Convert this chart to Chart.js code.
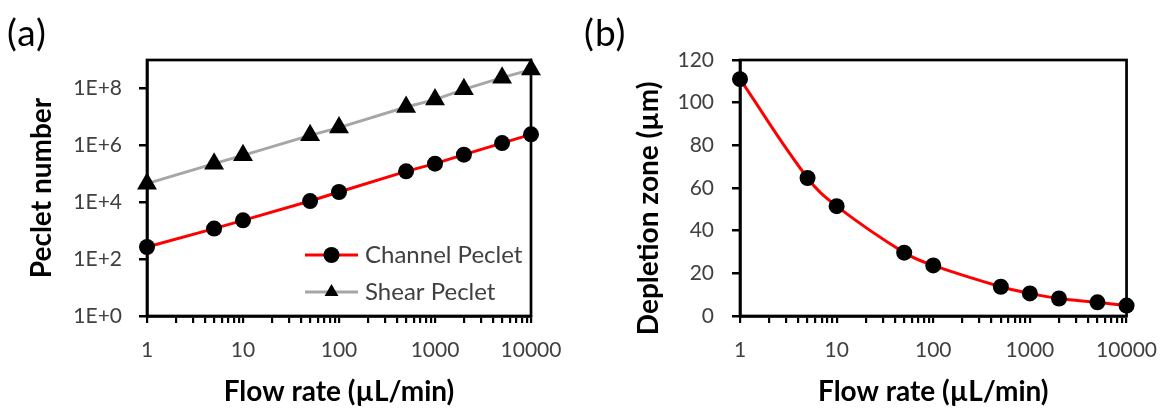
<!DOCTYPE html>
<html lang="en">
<head>
    <meta charset="utf-8">
    <title>Peclet number and depletion zone vs flow rate</title>
    <style>
        body { margin: 0; background: #fff; width: 1172px; height: 408px; position: relative; overflow: hidden; font-family: Lato, sans-serif; }
        .panel { position: absolute; top: 0; width: 586px; height: 408px; }
        .tag { position: absolute; top: 13px; font-size: 37px; line-height: 1; color: #000; letter-spacing: 1px; }
    </style>
</head>
<body>
    <!-- two panels side by side -->
    <div class="panel" style="left:0"><canvas id="chartA" width="586" height="408"></canvas></div>
    <div class="panel" style="left:586px"><canvas id="chartB" width="586" height="408"></canvas></div>
    <div class="tag" style="left:7px">(a)</div>
    <div class="tag" style="left:584px">(b)</div>

    <script src="https://cdn.jsdelivr.net/npm/chart.js"></script>
    <script>
        // data
        const flowRates = [1, 5, 10, 50, 100, 500, 1000, 2000, 5000, 10000]
        const channelPeclet = [266, 1180, 2310, 11000, 22900, 122000, 227000, 470000, 1200000, 2430000]
        const shearPeclet = [45000, 227000, 445000, 2240000, 4200000, 22200000, 40500000, 93000000, 240000000, 460000000]
        const depletionZone = [111, 64.7, 51.5, 29.7, 23.7, 13.7, 10.6, 8.2, 6.4, 4.9]

        // axis ticks
        const xMajorTicks = [1, 10, 100, 1000, 10000]
        const xTickLabels = ['1', '10', '100', '1000', '10000']
        const peTicks = [1, 1e2, 1e4, 1e6, 1e8]
        const peTickLabels = ['1E+0', '1E+2', '1E+4', '1E+6', '1E+8']
        const depTicks = [0, 20, 40, 60, 80, 100, 120]

        // minor ticks 2..9 in every decade
        const xTickValues = []
        xMajorTicks.forEach(m => {
            xTickValues.push(m)
            if (m < 10000) {
                for (let k = 2; k <= 9; k++) xTickValues.push(m * k)
            }
        })

        const tickFont = { family: 'Lato', size: 21 }
        const tickColor = '#404040'
        const titleFont = { family: 'Lato', size: 28, weight: 'bold', lineHeight: 1 }

        const framePlugin = {
            id: 'frame',
            beforeDatasetsDraw(chart) {
                const { ctx, chartArea: a } = chart
                ctx.save()
                ctx.strokeStyle = '#000'
                ctx.lineWidth = 2.7
                ctx.strokeRect(a.left, a.top, a.right - a.left, a.bottom - a.top)
                ctx.restore()
            }
        }

        // legend drawn inside the plot area, bottom right
        const insideLegend = {
            id: 'insideLegend',
            afterDraw(chart) {
                const { ctx, chartArea: a } = chart
                ctx.save()
                chart.data.datasets.forEach((ds, i) => {
                    const y = a.bottom - 61 + i * 37
                    const x0 = a.right - 226
                    const x1 = a.right - 173
                    const xm = (x0 + x1) / 2
                    ctx.strokeStyle = ds.borderColor
                    ctx.lineWidth = ds.borderWidth
                    ctx.beginPath()
                    ctx.moveTo(x0, y)
                    ctx.lineTo(x1, y)
                    ctx.stroke()
                    ctx.fillStyle = '#000'
                    ctx.beginPath()
                    if (ds.pointStyle === 'triangle') {
                        const r = 8
                        ctx.moveTo(xm, y - r)
                        ctx.lineTo(xm + r * 0.866, y + r * 0.5)
                        ctx.lineTo(xm - r * 0.866, y + r * 0.5)
                        ctx.closePath()
                    } else {
                        ctx.arc(xm, y, 8, 0, Math.PI * 2)
                    }
                    ctx.fill()
                    ctx.fillStyle = tickColor
                    ctx.font = '24px Lato'
                    ctx.textBaseline = 'middle'
                    ctx.textAlign = 'left'
                    ctx.fillText(ds.label, a.right - 166, y)
                })
                ctx.restore()
            }
        }

        function flowAxis() {
            return {
                type: 'logarithmic',
                min: 1,
                max: 10000,
                afterBuildTicks: s => { s.ticks = xTickValues.map(v => ({ value: v })) },
                afterFit: s => { s.height = 92 },
                ticks: {
                    autoSkip: false,
                    maxRotation: 0,
                    padding: 15,
                    font: tickFont,
                    color: tickColor,
                    callback: v => {
                        const i = xMajorTicks.indexOf(v)
                        return i < 0 ? '' : xTickLabels[i]
                    }
                },
                grid: { display: true, drawOnChartArea: false, drawTicks: true, tickLength: 7, color: '#000', lineWidth: 2.2 },
                border: { display: true, color: '#000', width: 2.7 },
                title: { display: true, text: 'Flow rate (µL/min)', font: titleFont, color: '#000', padding: { top: 0, bottom: 2 } }
            }
        }

        const configA = {
            type: 'line',
            data: {
                datasets: [
                    {
                        label: 'Channel Peclet',
                        data: flowRates.map((q, i) => ({ x: q, y: channelPeclet[i] })),
                        borderColor: '#FF0000',
                        borderWidth: 3,
                        pointStyle: 'circle',
                        pointRadius: 8,
                        pointHoverRadius: 8,
                        pointBackgroundColor: '#000',
                        pointBorderWidth: 0,
                        clip: false
                    },
                    {
                        label: 'Shear Peclet',
                        data: flowRates.map((q, i) => ({ x: q, y: shearPeclet[i] })),
                        borderColor: '#A6A6A6',
                        borderWidth: 3,
                        pointStyle: 'triangle',
                        pointRadius: 11.5,
                        pointHoverRadius: 11.5,
                        pointBackgroundColor: '#000',
                        pointBorderWidth: 0,
                        clip: false
                    }
                ]
            },
            options: {
                responsive: false,
                animation: false,
                layout: { padding: { top: 60, right: 55, left: 0, bottom: 0 } },
                scales: {
                    x: flowAxis(),
                    y: {
                        type: 'logarithmic',
                        min: 1,
                        max: 1e9,
                        afterBuildTicks: s => { s.ticks = peTicks.map(v => ({ value: v })) },
                        afterFit: s => { s.width = 147 },
                        ticks: {
                            padding: 17,
                            font: tickFont,
                            color: tickColor,
                            callback: v => {
                                const i = peTicks.indexOf(v)
                                return i < 0 ? '' : peTickLabels[i]
                            }
                        },
                        grid: { display: true, drawOnChartArea: false, tickLength: 8, color: '#000', lineWidth: 2.5 },
                        border: { display: true, color: '#000', width: 2.7 },
                        title: { display: true, text: 'Peclet number', font: titleFont, color: '#000', padding: { top: 28, bottom: 0 } }
                    }
                },
                plugins: {
                    legend: { display: false },
                    tooltip: { enabled: false }
                }
            },
            plugins: [framePlugin, insideLegend]
        }

        const configB = {
            type: 'line',
            data: {
                datasets: [
                    {
                        label: 'Depletion zone',
                        data: flowRates.map((q, i) => ({ x: q, y: depletionZone[i] })),
                        borderColor: '#FF0000',
                        borderWidth: 3,
                        tension: 0.4,
                        pointStyle: 'circle',
                        pointRadius: 8,
                        pointHoverRadius: 8,
                        pointBackgroundColor: '#000',
                        pointBorderWidth: 0,
                        clip: false
                    }
                ]
            },
            options: {
                responsive: false,
                animation: false,
                layout: { padding: { top: 60, right: 37, left: 0, bottom: 0 } },
                scales: {
                    x: flowAxis(),
                    y: {
                        type: 'linear',
                        min: 0,
                        max: 120,
                        afterBuildTicks: s => { s.ticks = depTicks.map(v => ({ value: v })) },
                        afterFit: s => { s.width = 154 },
                        ticks: { padding: 18, font: tickFont, color: tickColor, callback: v => String(v) },
                        grid: { display: true, drawOnChartArea: false, tickLength: 8, color: '#000', lineWidth: 2.5 },
                        border: { display: true, color: '#000', width: 2.7 },
                        // trailing spaces push the title a bit lower, as in the figure
                        title: { display: true, text: 'Depletion zone (µm)      ', font: titleFont, color: '#000', padding: { top: 49, bottom: 0 } }
                    }
                },
                plugins: {
                    legend: { display: false },
                    tooltip: { enabled: false }
                }
            },
            plugins: [framePlugin]
        }

        new Chart(document.getElementById('chartA').getContext('2d'), configA)
        new Chart(document.getElementById('chartB').getContext('2d'), configB)
    </script>
</body>
</html>
